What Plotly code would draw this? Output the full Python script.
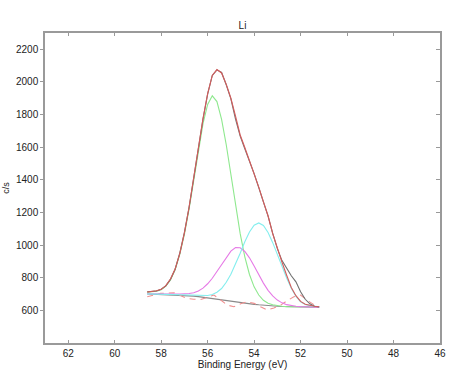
import plotly.graph_objects as go

# Binding energy grid (eV)
energy = [58.6, 58.4, 58.2, 58.0, 57.8, 57.6, 57.4, 57.2, 57.0, 56.8, 56.6, 56.4, 56.2,
          56.0, 55.8, 55.6, 55.4, 55.2, 55.0, 54.8, 54.6, 54.4, 54.2, 54.0, 53.8, 53.6,
          53.4, 53.2, 53.0, 52.8, 52.6, 52.4, 52.2, 52.0, 51.8, 51.6, 51.4, 51.2]

raw_counts = [714, 716, 719, 730, 750, 790, 852, 950, 1078, 1230, 1410, 1596, 1772,
              1925, 2040, 2074, 2058, 1983, 1896, 1772, 1668, 1590, 1520, 1438, 1352, 1266,
              1178, 1072, 978, 905, 855, 812, 775, 714, 668, 640, 625, 621]

envelope = [712, 715, 720, 729, 752, 792, 853, 948, 1075, 1232, 1412, 1598, 1775,
            1928, 2040, 2076, 2055, 1985, 1900, 1790, 1675, 1598, 1520, 1440, 1355, 1265,
            1180, 1070, 975, 895, 815, 740, 690, 655, 638, 630, 625, 622]

peak_green = [712, 714, 718, 727, 748, 787, 849, 943, 1065, 1220, 1398, 1582, 1745,
              1862, 1915, 1880, 1770, 1615, 1432, 1243, 1070, 928, 820, 744, 694, 662,
              644, 634, 628, 625, 623, 622, 621, 621, 620, 620, 620, 620]

peak_magenta = [702, 701, 701, 700, 700, 700, 700, 700, 701, 703, 708, 719, 736,
                763, 797, 839, 884, 928, 963, 985, 984, 961, 922, 872, 818, 767,
                723, 689, 663, 646, 635, 629, 625, 623, 621, 621, 620, 620]

peak_cyan = [701, 700, 699, 698, 698, 697, 696, 696, 695, 694, 692, 691, 690,
             691, 697, 711, 734, 772, 822, 884, 950, 1020, 1080, 1122, 1136, 1120,
             1077, 1015, 941, 866, 798, 735, 685, 652, 636, 629, 625, 622]

background = [700, 699, 698, 697, 696, 695, 694, 693, 692, 690, 687, 684, 680,
              676, 671, 666, 661, 657, 653, 649, 646, 643, 640, 637, 634, 631,
              629, 627, 625, 624, 623, 622, 621, 621, 620, 620, 620, 620]

resid_energy = [58.6, 58.3, 58.03, 57.75, 57.45, 57.15, 56.88, 56.6, 56.3, 56.0, 55.73,
                55.45, 55.15, 54.87, 54.58, 54.29, 54.0, 53.7, 53.43, 53.15, 52.86,
                52.57, 52.29, 52.0, 51.7, 51.28]
residual = [683, 695, 704, 706, 708, 690, 673, 668, 667, 680, 694,
            665, 632, 622, 640, 653, 643, 620, 602, 615, 632,
            660, 683, 694, 660, 622]

x_ticks = [62, 60, 58, 56, 54, 52, 50, 48, 46]
y_ticks = [600, 800, 1000, 1200, 1400, 1600, 1800, 2000, 2200]

fig = go.Figure()
lw = 1.1
fig.add_trace(go.Scatter(x=energy, y=background, mode="lines",
                         line=dict(color="#8a8a8a", width=lw)))
fig.add_trace(go.Scatter(x=resid_energy, y=residual, mode="lines",
                         line=dict(color="#f09090", width=lw, dash="6px,5px")))
fig.add_trace(go.Scatter(x=energy, y=peak_green, mode="lines",
                         line=dict(color="#8ee88e", width=lw)))
fig.add_trace(go.Scatter(x=energy, y=peak_magenta, mode="lines",
                         line=dict(color="#e67ae6", width=lw)))
fig.add_trace(go.Scatter(x=energy, y=peak_cyan, mode="lines",
                         line=dict(color="#84eeee", width=lw)))
fig.add_trace(go.Scatter(x=energy, y=raw_counts, mode="lines",
                         line=dict(color="#707070", width=lw)))
fig.add_trace(go.Scatter(x=energy, y=envelope, mode="lines",
                         line=dict(color="#d45c5c", width=lw)))
# invisible trace for the right-hand tick axis
fig.add_trace(go.Scatter(x=[energy[0]], y=[background[0]], yaxis="y2", mode="markers",
                         marker=dict(opacity=0), hoverinfo="skip"))

font = dict(family="Liberation Sans, Arial, sans-serif", size=10, color="#222")
fig.update_layout(
    width=455, height=386,
    margin=dict(l=45, r=15, t=33, b=43),
    paper_bgcolor="white", plot_bgcolor="white",
    showlegend=False,
    font=font,
    title=dict(text="Li", x=0.5, xref="paper", xanchor="center",
               y=1 - 25 / 386, yref="container", yanchor="middle",
               font=dict(family="Liberation Sans, Arial, sans-serif", size=10, color="#222")),
    xaxis=dict(range=[63, 46], tickvals=x_ticks, ticks="inside", ticklen=3,
               tickcolor="#999", showline=True, linecolor="#9a9a9a", linewidth=1.5,
               mirror="ticks", showgrid=False, zeroline=False, automargin=False,
               title=dict(text="Binding Energy (eV)", standoff=0, font=font)),
    yaxis=dict(range=[400, 2300], tickvals=y_ticks, ticks="outside", ticklen=3,
               tickcolor="#999", showline=True, linecolor="#9a9a9a", linewidth=1.5,
               showgrid=False, zeroline=False, automargin=False,
               title=dict(text="c/s", standoff=5, font=dict(family="Liberation Sans, Arial, sans-serif", size=9, color="#222"))),
    yaxis2=dict(range=[400, 2300], tickvals=y_ticks, ticks="inside", ticklen=4,
                tickcolor="#999", overlaying="y", side="right", showticklabels=False,
                showline=True, linecolor="#9a9a9a", linewidth=1.5, showgrid=False,
                zeroline=False, automargin=False),
)

fig.write_html("out.html")
